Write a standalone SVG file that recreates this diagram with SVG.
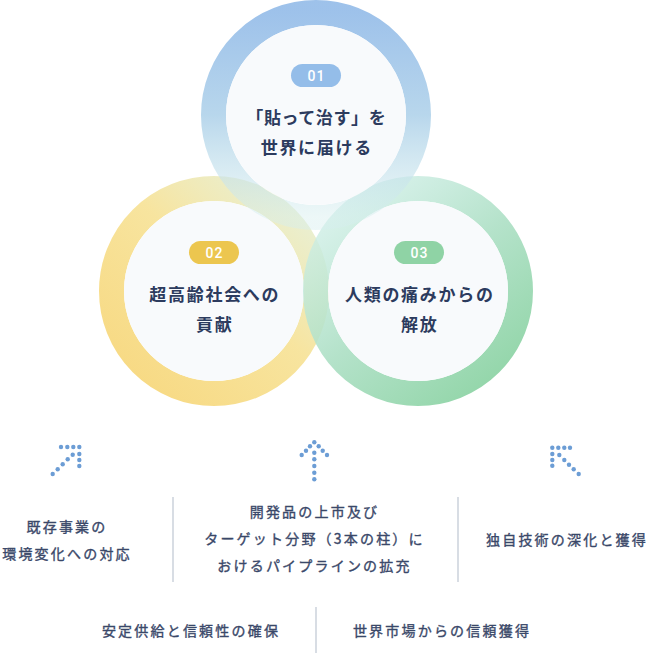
<svg xmlns="http://www.w3.org/2000/svg" width="648" height="653" viewBox="0 0 648 653">
<defs>
<linearGradient id="g1" x1="0" y1="0" x2="0" y2="1">
<stop offset="0" stop-color="#93bbe8"/>
<stop offset="0.5" stop-color="#b0d2ea"/>
<stop offset="1" stop-color="#d6eeee" stop-opacity="0.5"/>
</linearGradient>
<linearGradient id="g2" x1="1" y1="0.15" x2="0.2" y2="1">
<stop offset="0" stop-color="#e4ecc9" stop-opacity="0.85"/>
<stop offset="0.45" stop-color="#f7e39a"/>
<stop offset="1" stop-color="#f7d87e"/>
</linearGradient>
<linearGradient id="g3" x1="0.1" y1="0" x2="0.9" y2="1">
<stop offset="0" stop-color="#d2f0ea" stop-opacity="0.85"/>
<stop offset="0.5" stop-color="#acdfc4"/>
<stop offset="1" stop-color="#84d09d"/>
</linearGradient>
<style>
.inner{fill:#f8fafc}
.badge-t{font-family:Roboto,"Noto Sans",sans-serif;font-size:14px;font-weight:500;fill:#ffffff;text-anchor:middle;letter-spacing:1px}
.title{font-family:"Noto Sans CJK JP","Noto Sans",sans-serif;font-size:17px;font-weight:700;fill:#2c3b5e;text-anchor:middle;letter-spacing:1.7px}
.lbl{font-family:"Noto Sans CJK JP","Noto Sans",sans-serif;font-size:14px;font-weight:400;fill:#3a4869;stroke:#3a4869;stroke-width:0.35px;text-anchor:middle;letter-spacing:2.2px}
.dot{fill:#6c9dd5}
.sep{stroke:#d8dde4;stroke-width:2}
</style>
</defs>
<rect width="648" height="653" fill="#ffffff"/>

<g id="node-02">
<circle cx="214" cy="291" r="102.5" fill="none" stroke="url(#g2)" stroke-width="25" opacity="0.95"/>
<circle class="inner" cx="214" cy="291" r="90"/>
<rect x="189" y="241" width="50" height="23" rx="11.5" fill="#ecc64f"/>
<text class="badge-t" x="214.5" y="257.5">02</text>
<text class="title" x="214.8" y="300.5">超高齢社会への</text>
<text class="title" x="214.8" y="330.5">貢献</text>
</g>

<g id="node-03">
<circle cx="418" cy="291" r="102.5" fill="none" stroke="url(#g3)" stroke-width="25" opacity="0.9"/>
<circle class="inner" cx="418" cy="291" r="90"/>
<rect x="394" y="241" width="50" height="23" rx="11.5" fill="#8fd3a5"/>
<text class="badge-t" x="419.5" y="257.5">03</text>
<text class="title" x="419.8" y="300.5">人類の痛みからの</text>
<text class="title" x="419.8" y="330.5">解放</text>
</g>

<g id="node-01">
<circle cx="316" cy="115" r="102.5" fill="none" stroke="url(#g1)" stroke-width="25" opacity="0.9"/>
<circle class="inner" cx="316" cy="115" r="90" opacity="0.96"/>
<rect x="291" y="64" width="50" height="23" rx="11.5" fill="#94bde9"/>
<text class="badge-t" x="316.5" y="80.5">01</text>
<text class="title" x="316.3" y="123.5" style="letter-spacing:0.6px">「貼って治す」を</text>
<text class="title" x="316.8" y="153.5">世界に届ける</text>
</g>

<g id="connectors">
<g id="arrow-left" class="dot">
<circle cx="61" cy="447" r="2.2"/><circle cx="67.3" cy="447" r="2.2"/><circle cx="73.3" cy="447" r="2.2"/><circle cx="79.3" cy="447" r="2.2"/>
<circle cx="79.3" cy="454" r="2.2"/><circle cx="79.3" cy="460" r="2.2"/><circle cx="79.3" cy="466" r="2.2"/>
<circle cx="72.7" cy="454.7" r="2.2"/><circle cx="67.7" cy="459.3" r="2.2"/><circle cx="62.7" cy="464.3" r="2.2"/><circle cx="57.7" cy="469.3" r="2.2"/><circle cx="52.7" cy="474" r="2.2"/>
</g>
<g id="arrow-mid" class="dot">
<circle cx="314.3" cy="442.3" r="2.2"/>
<circle cx="310" cy="446.3" r="2.2"/><circle cx="306" cy="450.7" r="2.2"/><circle cx="301.7" cy="455" r="2.2"/>
<circle cx="318.7" cy="446.3" r="2.2"/><circle cx="322.7" cy="450.7" r="2.2"/><circle cx="327" cy="455" r="2.2"/>
<circle cx="314.3" cy="452.7" r="2.2"/><circle cx="314.3" cy="459.3" r="2.2"/><circle cx="314.3" cy="466" r="2.2"/><circle cx="314.3" cy="472.7" r="2.2"/><circle cx="314.3" cy="479.3" r="2.2"/>
</g>
<g id="arrow-right" class="dot">
<circle cx="552.3" cy="447.7" r="2.2"/><circle cx="558.3" cy="447.7" r="2.2"/><circle cx="564.3" cy="447.7" r="2.2"/><circle cx="570" cy="447.7" r="2.2"/>
<circle cx="552.3" cy="454" r="2.2"/><circle cx="552.3" cy="460" r="2.2"/><circle cx="552.3" cy="465.7" r="2.2"/>
<circle cx="559.3" cy="455" r="2.2"/><circle cx="564.3" cy="460" r="2.2"/><circle cx="569" cy="464.7" r="2.2"/><circle cx="573.7" cy="469.3" r="2.2"/><circle cx="578.7" cy="474" r="2.2"/>
</g>
<line class="sep" x1="173" y1="497" x2="173" y2="582"/>
<line class="sep" x1="458" y1="497" x2="458" y2="582"/>
<line class="sep" x1="316" y1="607" x2="316" y2="653"/>
</g>

<g id="label-existing">
<text class="lbl" x="67" y="532">既存事業の</text>
<text class="lbl" x="67" y="558.5">環境変化への対応</text>
</g>
<g id="label-pipeline">
<text class="lbl" x="314.5" y="517">開発品の上市及び</text>
<text class="lbl" x="314.5" y="543.5">ターゲット分野（3本の柱）に</text>
<text class="lbl" x="314.5" y="570.5">おけるパイプラインの拡充</text>
</g>
<g id="label-tech">
<text class="lbl" x="567" y="545">独自技術の深化と獲得</text>
</g>
<g id="label-supply">
<text class="lbl" x="191" y="635.5">安定供給と信頼性の確保</text>
</g>
<g id="label-market">
<text class="lbl" x="442" y="635.5">世界市場からの信頼獲得</text>
</g>
</svg>
